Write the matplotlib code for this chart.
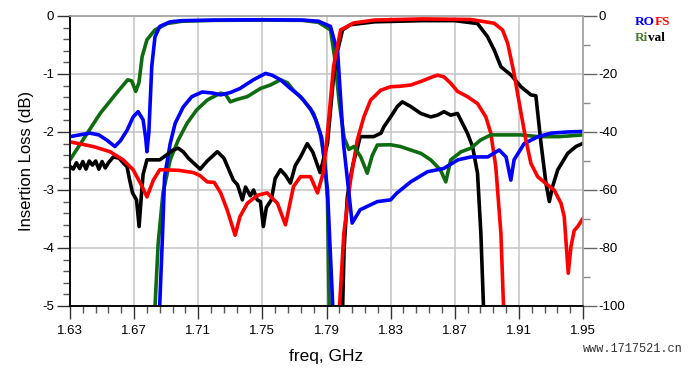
import matplotlib
matplotlib.use("Agg")
import matplotlib.pyplot as plt
from matplotlib.ticker import MultipleLocator, FormatStrFormatter

plt.rcParams['font.family'] = ['Liberation Sans', 'DejaVu Sans']
plt.rcParams['axes.unicode_minus'] = False

# insertion loss (left axis, dB) - passband detail
blue_il_f = [1.6855, 1.6875, 1.689, 1.6925, 1.6956, 1.7006, 1.706, 1.7125, 1.7194, 1.724, 1.730,
             1.736, 1.7444, 1.7519, 1.756, 1.7613, 1.7675, 1.7738, 1.780, 1.7835, 1.787, 1.7906, 1.7944]
blue_il = [-5.3, -3.92, -2.77, -2.2, -1.85, -1.57, -1.39, -1.31, -1.33, -1.36, -1.32,
           -1.25, -1.1, -0.99, -1.02, -1.1, -1.25, -1.39, -1.6, -1.8, -2.1, -3.0, -5.3]

green_il_f = [1.6825, 1.685, 1.688, 1.6925, 1.6975, 1.703, 1.709, 1.7156, 1.7175, 1.724, 1.727, 1.730,
              1.734, 1.7406, 1.7488, 1.755, 1.7613, 1.7656, 1.7694, 1.7756, 1.782, 1.786, 1.789, 1.7906, 1.7918]
green_il = [-5.3, -3.92, -3.05, -2.48, -2.14, -1.85, -1.62, -1.45, -1.42, -1.33, -1.35, -1.48,
            -1.44, -1.39, -1.25, -1.19, -1.1, -1.15, -1.28, -1.45, -1.68, -2.02, -2.5, -3.17, -5.3]

red_il_f = [1.7975, 1.8008, 1.805, 1.8092, 1.8133, 1.8175, 1.8238, 1.83, 1.8363, 1.8425, 1.8488, 1.855,
            1.8592, 1.8633, 1.8675, 1.8717, 1.8779, 1.8842, 1.8894, 1.8925, 1.8956, 1.8988, 1.9008]
red_il = [-5.3, -3.75, -2.83, -2.14, -1.74, -1.45, -1.28, -1.22, -1.21, -1.19, -1.13, -1.06,
          -1.02, -1.05, -1.16, -1.3, -1.39, -1.51, -1.74, -2.02, -2.6, -3.75, -5.3]

black_il_f = [1.7998, 1.801, 1.803, 1.805, 1.807, 1.809, 1.811, 1.8194, 1.824, 1.8258, 1.83, 1.8342, 1.8373,
              1.8425, 1.8488, 1.855, 1.8592, 1.8633, 1.8675, 1.8717, 1.8748, 1.8779, 1.8811, 1.8842, 1.8863, 1.8883]
black_il = [-5.3, -4.0, -3.12, -2.77, -2.5, -2.31, -2.08, -2.08, -2.02, -1.91, -1.74, -1.56, -1.48,
            -1.56, -1.68, -1.74, -1.71, -1.65, -1.71, -1.68, -1.85, -2.02, -2.25, -2.71, -3.75, -5.3]

# wideband response (right axis, dB)
blue_wb_f = [1.63, 1.636, 1.6425, 1.648, 1.653, 1.658, 1.6615, 1.6656, 1.6694, 1.6725, 1.6756, 1.6772, 1.678,
             1.6792, 1.681, 1.683, 1.686, 1.6925, 1.70, 1.72, 1.75, 1.775, 1.785, 1.7925, 1.797, 1.8006,
             1.806, 1.811, 1.8217, 1.83, 1.834, 1.8425, 1.853, 1.863, 1.872, 1.88, 1.8906, 1.8977, 1.902,
             1.905, 1.907, 1.9133, 1.922, 1.93, 1.94, 1.95]
blue_wb = [-41.6, -41, -40.4, -41, -42.8, -45, -43, -39.4, -34.8, -33, -35.8, -42, -46.8,
           -40, -17.4, -7.2, -3.6, -2, -1.6, -1.4, -1.3, -1.4, -1.8, -3.6, -12.8, -44,
           -71.4, -66.8, -64, -63.4, -61, -57.2, -53.7, -52.6, -49.6, -48.6, -48.6, -46.2, -48.6,
           -56.6, -49.6, -44, -41.6, -40.4, -40, -39.8]

green_wb_f = [1.63, 1.638, 1.6488, 1.659, 1.666, 1.6685, 1.671, 1.673, 1.675, 1.678, 1.683, 1.6906, 1.70,
              1.72, 1.75, 1.775, 1.785, 1.7925, 1.795, 1.798, 1.801, 1.804, 1.8071, 1.8113, 1.8154, 1.8186,
              1.8217, 1.83, 1.836, 1.8425, 1.849, 1.855, 1.861, 1.8644, 1.8675, 1.874, 1.88, 1.886, 1.8925,
              1.90, 1.911, 1.922, 1.935, 1.95]
green_wb = [-49.6, -42.8, -33.6, -26.6, -22, -22.4, -26, -23, -14, -8.2, -4.8, -2.6, -1.8,
            -1.5, -1.4, -1.5, -2.2, -4.8, -14, -30, -42, -46, -45, -48.5, -54.2, -48,
            -44.5, -44.4, -45, -46.2, -47.4, -49.6, -53, -57.2, -49.6, -46.8, -45.6, -42.8, -41,
            -41, -41, -41.6, -41.6, -41]

red_wb_f = [1.63, 1.6444, 1.655, 1.6631, 1.6694, 1.675, 1.678, 1.682, 1.686, 1.6975, 1.707, 1.711, 1.7156,
            1.72, 1.724, 1.728, 1.733, 1.736, 1.7406, 1.747, 1.753, 1.7594, 1.7644, 1.7694, 1.7738, 1.78,
            1.7844, 1.788, 1.7906, 1.7944, 1.7988, 1.807, 1.82, 1.85, 1.88, 1.8946, 1.8998, 1.903, 1.907,
            1.911, 1.9144, 1.9175, 1.9217, 1.928, 1.932, 1.9363, 1.9383, 1.9408, 1.9425, 1.9445, 1.9467, 1.95]
red_wb = [-43.4, -45, -46.8, -49.6, -53, -58.8, -62.4, -56.6, -53, -53.2, -54, -55, -57.2,
          -57.4, -61, -66.8, -75.6, -69.2, -64.6, -61.8, -61, -64.6, -72, -58.8, -55.4, -55.4,
          -61, -54, -40.4, -17.4, -4.8, -2.4, -1.4, -1.0, -1.2, -2.5, -4.8, -9.4, -19.8,
          -32.4, -42.8, -50.8, -55.4, -58.3, -60, -64.6, -69.2, -88.7, -79.5, -74, -72.6, -69.8]

black_wb_f = [1.63, 1.632, 1.634, 1.636, 1.638, 1.640, 1.642, 1.644, 1.646, 1.648, 1.650, 1.652, 1.654,
              1.657, 1.6605, 1.6635, 1.6656, 1.667, 1.669, 1.6715, 1.6731, 1.6745, 1.6756, 1.678, 1.682,
              1.686, 1.690, 1.6944, 1.6975, 1.7006, 1.7038, 1.7069, 1.7112, 1.7156, 1.7219, 1.726, 1.7319,
              1.7345, 1.7375, 1.7395, 1.7425, 1.7445, 1.7468, 1.7488, 1.7506, 1.7525, 1.7556, 1.758, 1.7613,
              1.7645, 1.7675, 1.7705, 1.7738, 1.778, 1.7815, 1.786, 1.7906, 1.7925, 1.7944, 1.797, 1.80,
              1.805, 1.82, 1.85, 1.87, 1.8842, 1.8904, 1.8946, 1.8988, 1.905, 1.9113, 1.9175, 1.9206,
              1.9238, 1.9269, 1.929, 1.931, 1.9342, 1.9404, 1.9456, 1.95]
black_wb = [-51.8, -52.8, -50.6, -52.6, -50.2, -52.8, -50, -51.4, -50, -52.8, -50.2, -52.4, -50.6,
            -48.6, -49, -50.8, -52, -56, -61, -63.4, -72.6, -62, -54.6, -49.6, -49.6,
            -49.6, -48, -46.2, -45.6, -46.8, -49, -50.6, -52.8, -50, -46.8, -49, -56.6,
            -58.2, -63.4, -59, -62, -60, -63.4, -64, -72.6, -66, -63.4, -56, -53,
            -55, -57.6, -51.6, -48.6, -44, -47, -54, -44, -32.4, -21, -11.8, -4.8,
            -3, -2, -1.6, -1.6, -2.6, -7.1, -11.7, -17.5, -20.3, -24.4, -27.2, -27.5,
            -43.9, -57.7, -64, -58.9, -53.1, -47.4, -45, -43.9]

x_ticks = [1.63, 1.67, 1.71, 1.75, 1.79, 1.83, 1.87, 1.91, 1.95]
x_minor = [1.63 + 0.008 * i for i in range(41)]

c_blue = '#0000ff'
c_red = '#ff0000'
c_green = '#0f6b0f'
c_black = '#000000'
lw = 2.6

fig = plt.figure(figsize=(6.93, 3.70), dpi=100)
ax = fig.add_axes([70 / 693, 64 / 370, 513 / 693, 290 / 370])
ax2 = ax.twinx()

ax.plot(green_il_f, green_il, color=c_green, lw=lw)
ax.plot(blue_il_f, blue_il, color=c_blue, lw=lw)
ax.plot(black_il_f, black_il, color=c_black, lw=lw)
ax.plot(red_il_f, red_il, color=c_red, lw=lw)

ax2.plot(green_wb_f, green_wb, color=c_green, lw=lw)
ax2.plot(black_wb_f, black_wb, color=c_black, lw=lw)
ax2.plot(blue_wb_f, blue_wb, color=c_blue, lw=lw)
ax2.plot(red_wb_f, red_wb, color=c_red, lw=lw)

ax.set_xlim(1.63, 1.95)
ax.set_ylim(-5, 0)
ax2.set_ylim(-100, 0)

ax.set_xticks(x_ticks)
ax.set_xticks(x_minor, minor=True)
ax.xaxis.set_major_formatter(FormatStrFormatter('%.2f'))
ax.yaxis.set_major_locator(MultipleLocator(1))
ax.yaxis.set_minor_locator(MultipleLocator(0.2))
ax.yaxis.set_major_formatter(FormatStrFormatter('%d'))
ax2.yaxis.set_major_locator(MultipleLocator(20))
ax2.yaxis.set_minor_locator(MultipleLocator(10))
ax2.yaxis.set_major_formatter(FormatStrFormatter('%d'))

ax.grid(True, which='major', color='#c4c4c4', lw=1.1)
ax.set_axisbelow(True)

for a in (ax, ax2):
    a.spines['left'].set_color('black')
    a.spines['bottom'].set_color('black')
    a.spines['top'].set_color('#a8a8a8')
    a.spines['right'].set_color('#a8a8a8')
    for s in a.spines.values():
        s.set_linewidth(1.1)

ax.tick_params(axis='both', which='major', direction='out', length=9.5, width=1, color='#333333',
               labelsize=9.5, labelcolor='black')
ax.tick_params(axis='both', which='minor', direction='out', length=5, width=1, color='#555555')
ax.tick_params(axis='y', which='major', pad=2)
ax.tick_params(axis='x', which='major', pad=4)
ax2.tick_params(axis='y', which='major', direction='out', length=10, width=1, color='#666666',
                labelsize=9.5, pad=1)
ax2.tick_params(axis='y', which='minor', direction='out', length=5, width=1, color='#888888')

ax.set_ylabel('Insertion Loss (dB)', fontsize=12, labelpad=6)
ax.set_xlabel('freq, GHz', fontsize=12.5, labelpad=9)

# two-colour legend labels
fp = dict(family='Liberation Serif', weight='bold', size=9.5, va='top', ha='left')
legend_rows = [(('RO', c_blue), ('FS', c_red)), (('Ri', '#4a7a30'), ('val', c_black))]
fig.canvas.draw()
renderer = fig.canvas.get_renderer()
y0 = 1 - 16 / 370
for row in legend_rows:
    x0 = 635 / 693
    for txt, col in row:
        t = fig.text(x0, y0, txt, color=col, **fp)
        bb = t.get_window_extent(renderer=renderer)
        x0 += bb.width / fig.bbox.width
    y0 -= 16 / 370

fig.text(583 / 693, 1 - 349 / 370, 'www.1717521.cn', family='Liberation Mono', fontsize=8.6,
         color='#333333', va='center', ha='left')

fig.savefig('out.png', dpi=100)
